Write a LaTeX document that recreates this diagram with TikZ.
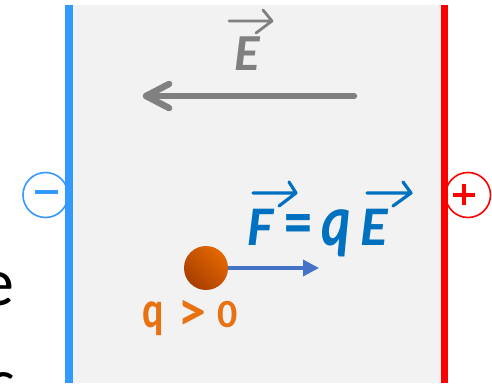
\documentclass[tikz,border=0pt]{standalone}
\usepackage{fontspec}
\setmainfont{Carlito}
\usetikzlibrary{arrows.meta}
\definecolor{bggray}{RGB}{242,242,242}
\definecolor{plateblue}{RGB}{51,153,255}
\definecolor{platered}{RGB}{255,0,0}
\definecolor{fieldgray}{RGB}{128,128,128}
\definecolor{forceblue}{RGB}{0,112,192}
\definecolor{arrowblue}{RGB}{68,114,196}
\definecolor{chargeorange}{RGB}{232,114,18}
\definecolor{balllight}{RGB}{228,104,0}
\definecolor{balldark}{RGB}{168,62,0}
\newcommand{\fs}[1]{\fontsize{#1}{#1}\selectfont}
\begin{document}
\begin{tikzpicture}[x=1pt,y=-1pt,
  glyph/.style={inner sep=0pt,outer sep=0pt,anchor=base},
  vecarrow/.style={line width=2.8pt,line cap=round,line join=round},
  plate/.style={line width=7.5pt},
  sign/.style={line width=1.6pt,fill=white}]
\useasboundingbox (0,0) rectangle (492,383);
\fill[white] (0,0) rectangle (492,383);
\fill[bggray] (69,5) rectangle (444,383);
% partial text at left
\node[glyph,anchor=base east,text=black] (ltxt1) at (14,305) {\fs{68}e};
\node[glyph,anchor=base east,text=black] (ltxt2) at (16,405) {\fs{68}s};
% sign circles
\draw[sign,draw=plateblue] (45.5,195) circle (22.5);
\draw[plateblue,line width=4pt] (35,192) -- (58,192);
\draw[sign,draw=platered] (468,195) circle (22.5);
\draw[platered,line width=4pt] (453,194.5) -- (475,194.5);
\draw[platered,line width=4pt] (464,184) -- (464,205);
% plates
\coordinate (bt) at (69,5); \coordinate (bb) at (69,383);
\coordinate (rt) at (444.5,5); \coordinate (rb) at (444.5,383);
\draw[plate,plateblue] (bt) -- (bb);
\draw[plate,platered] (rt) -- (rb);
% field arrow
\coordinate (es) at (354,96); \coordinate (ee) at (146,96);
\draw[fieldgray,line width=6.5pt,line cap=round] (es) -- (ee);
\draw[fieldgray,line width=6.5pt,line cap=round,line join=round] (169,84) -- (ee) -- (169,108);
% field label
\node[glyph,text=fieldgray] (Elab) at (247,70) {\fs{52}\bfseries\itshape E};
\draw[vecarrow,fieldgray] (229,21) -- (272,21) (263,10) -- (272,21) -- (256,33);
% force formula
\node[glyph,text=forceblue] (F) at (260,245) {\fs{56}\bfseries\itshape F};
\node[glyph,text=forceblue,anchor=center] (eq) at (298.5,229.5) {\fs{56}\bfseries \scalebox{1.0}[1.2]{=}};
\node[glyph,text=forceblue] (q) at (336,245) {\fs{56}\bfseries\itshape \scalebox{1}[1.3]{q}};
\node[glyph,text=forceblue] (E2) at (374,245) {\fs{56}\bfseries\itshape E};
\draw[vecarrow,forceblue,line width=3.2pt] (253,193) -- (296,193) (289,182) -- (296,193) -- (279,206);
\draw[vecarrow,forceblue,line width=3.2pt] (367,193) -- (411,193) (403,182) -- (411,193) -- (393,206);
% charge
\shade[top color=balllight,bottom color=balldark,shading angle=-45] (206,268) circle (22);
\coordinate (fs) at (228,268); \coordinate (fe) at (319,268);
\draw[arrowblue,line width=3.5pt,-{Triangle[length=16pt,width=16pt]}] (fs) -- (fe);
\node[glyph,text=chargeorange] (qc) at (153,327) {\fs{40}\bfseries \scalebox{1}[1.3]{q}};
\node[glyph,text=chargeorange,anchor=center] (gt) at (192,315) {\fs{40}\bfseries \scalebox{1.4}{>}};
\node[glyph,text=chargeorange] (zero) at (227.5,327) {\fs{40}\bfseries 0};
\end{tikzpicture}
\end{document}
